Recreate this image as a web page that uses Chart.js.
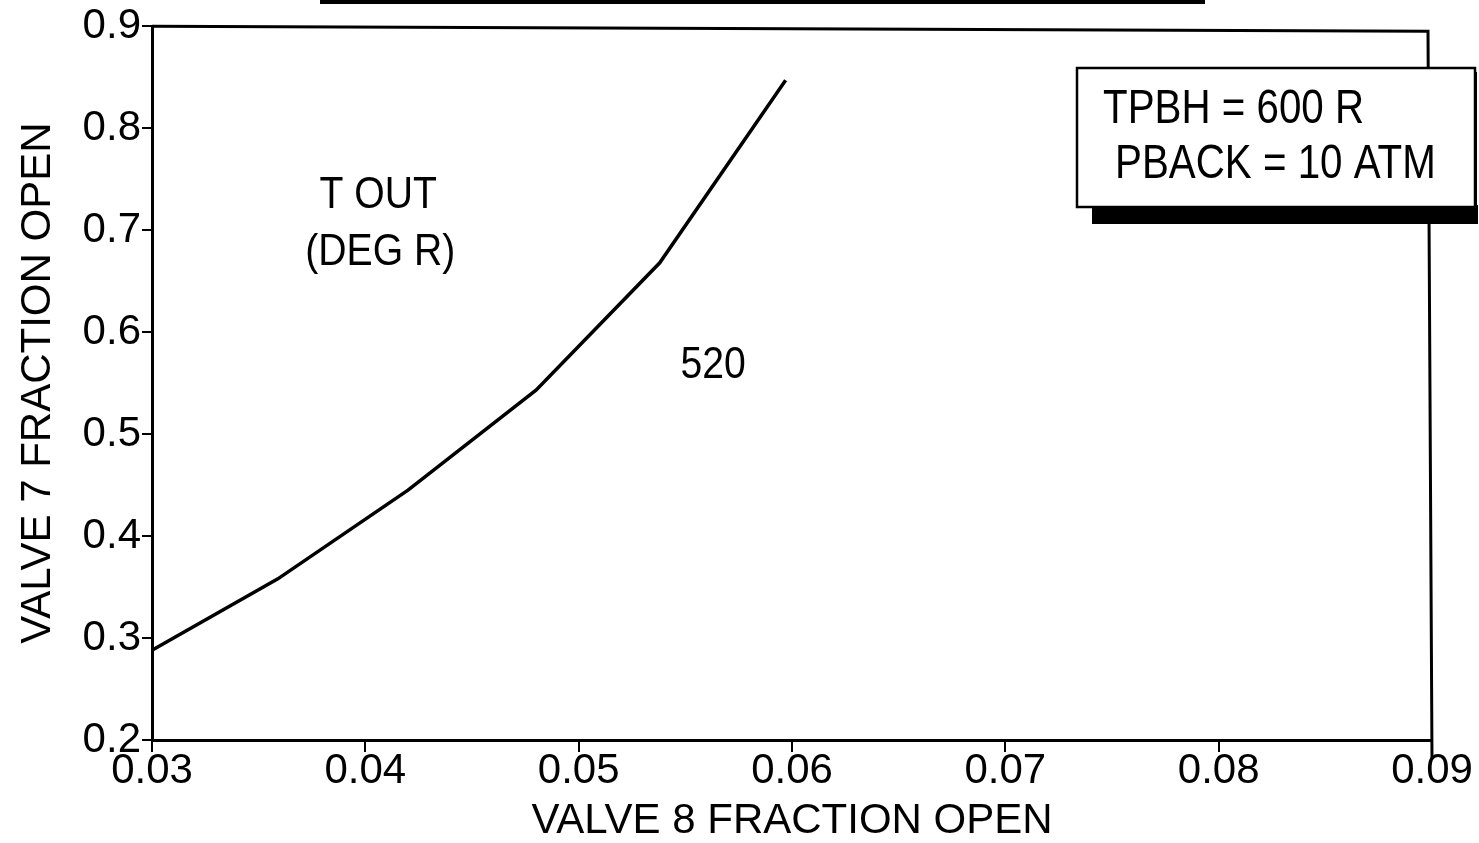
<!DOCTYPE html>
<html>
<head>
<meta charset="utf-8">
<script src="https://cdn.jsdelivr.net/npm/chart.js@4.4.1/dist/chart.umd.min.js"></script>
<style>
  html, body { margin: 0; padding: 0; background: #fff; }
  #wrap { width: 1479px; height: 843px; }
</style>
</head>
<body>
<div id="wrap"><canvas id="c" width="1479" height="843"></canvas></div>
<script>
// ---- data ----
const valve8 = [0.0300, 0.0359, 0.0420, 0.0480, 0.0538, 0.0597];
const valve7 = [0.288, 0.358, 0.445, 0.543, 0.668, 0.847];
const xTicks = [0.03, 0.04, 0.05, 0.06, 0.07, 0.08, 0.09];
const yTicks = [0.2, 0.3, 0.4, 0.5, 0.6, 0.7, 0.8, 0.9];
const xTitle = 'VALVE 8 FRACTION OPEN';
const yTitle = 'VALVE 7 FRACTION OPEN';
const contourLabel = ['T OUT', '(DEG R)'];
const contourLabelPos = [0.0406, 0.734, 0.0407, 0.678];
const contourValue = '520';
const contourValuePos = [0.0563, 0.567];
const boxLines = ['TPBH = 600 R', 'PBACK = 10 ATM'];

const FONT = "'Liberation Sans', Arial, Helvetica, sans-serif";

const points = valve8.map((x, i) => ({ x: x, y: valve7[i] }));

function condensedText(ctx, text, x, y, sx) {
  ctx.save();
  ctx.translate(x, y);
  ctx.scale(sx, 1);
  ctx.fillText(text, 0, 0);
  ctx.restore();
}

const decor = {
  id: 'decor',
  afterDraw(chart) {
    const ctx = chart.ctx;
    const a = chart.chartArea;
    const xs = chart.scales.x, ys = chart.scales.y;
    ctx.save();
    // frame top and right
    ctx.strokeStyle = '#000';
    ctx.lineWidth = 3;
    ctx.beginPath();
    ctx.moveTo(a.left, a.top);
    ctx.lineTo(a.right - 4, a.top + 5);
    ctx.lineTo(a.right, a.bottom + 18);
    ctx.stroke();
    // cut-off title bar at very top
    ctx.fillStyle = '#000';
    ctx.fillRect(320, 0, 885, 4);

    // contour labels
    ctx.fillStyle = '#000';
    ctx.textAlign = 'center';
    ctx.textBaseline = 'middle';
    ctx.font = '45px ' + FONT;
    condensedText(ctx, contourLabel[0], xs.getPixelForValue(contourLabelPos[0]), ys.getPixelForValue(contourLabelPos[1]), 0.87);
    condensedText(ctx, contourLabel[1], xs.getPixelForValue(contourLabelPos[2]), ys.getPixelForValue(contourLabelPos[3]), 0.87);
    condensedText(ctx, contourValue, xs.getPixelForValue(contourValuePos[0]), ys.getPixelForValue(contourValuePos[1]), 0.87);

    // parameter box with shadow
    ctx.fillStyle = '#000';
    ctx.fillRect(1092, 205, 386, 19);
    ctx.fillRect(1473, 72, 4, 150);
    ctx.fillStyle = '#fff';
    ctx.fillRect(1077, 68, 398, 139);
    ctx.strokeStyle = '#000';
    ctx.lineWidth = 2.5;
    ctx.strokeRect(1077, 68, 398, 139);
    ctx.fillStyle = '#000';
    ctx.textAlign = 'left';
    ctx.textBaseline = 'alphabetic';
    ctx.font = '48px ' + FONT;
    condensedText(ctx, boxLines[0], 1103, 123, 0.84);
    condensedText(ctx, boxLines[1], 1115, 178, 0.84);
    ctx.restore();
  }
};

new Chart(document.getElementById('c'), {
  type: 'scatter',
  data: {
    datasets: [{
      data: points,
      showLine: true,
      borderColor: '#000',
      backgroundColor: '#000',
      borderWidth: 3.5,
      pointRadius: 0,
      tension: 0
    }]
  },
  options: {
    responsive: false,
    animation: false,
    devicePixelRatio: 1,
    layout: { padding: { top: 23, right: 47, left: 0, bottom: 0 } },
    plugins: { legend: { display: false }, tooltip: { enabled: false } },
    scales: {
      x: {
        type: 'linear',
        min: xTicks[0], max: xTicks[xTicks.length - 1],
        afterBuildTicks: (s) => { s.ticks = xTicks.map(v => ({ value: v })); },
        afterFit: (s) => { s.height = 103; },
        border: { display: true, color: '#000', width: 3 },
        grid: { drawOnChartArea: false, drawTicks: true, tickLength: 12, color: '#000', lineWidth: 2 },
        ticks: {
          color: '#000', padding: -2, maxRotation: 0,
          font: { family: FONT, size: 42, lineHeight: 1 },
          callback: (v) => Number(v).toFixed(2)
        },
        title: {
          display: true, text: xTitle, color: '#000',
          font: { family: FONT, size: 42, lineHeight: 1 },
          padding: { top: 0, bottom: 1 }
        }
      },
      y: {
        type: 'linear',
        min: yTicks[0], max: yTicks[yTicks.length - 1],
        afterBuildTicks: (s) => { s.ticks = yTicks.map(v => ({ value: v })); },
        afterFit: (s) => { s.width = 152; },
        border: { display: true, color: '#000', width: 3 },
        grid: { drawOnChartArea: false, drawTicks: true, tickLength: 10, color: '#000', lineWidth: 2 },
        ticks: {
          color: '#000', padding: 1,
          font: { family: FONT, size: 42 },
          callback: (v) => Number(v).toFixed(1)
        },
        title: {
          display: true, text: yTitle, color: '#000',
          font: { family: FONT, size: 42, lineHeight: 1 },
          padding: { top: 17, bottom: 0 }
        }
      }
    }
  },
  plugins: [decor]
});
</script>
</body>
</html>
